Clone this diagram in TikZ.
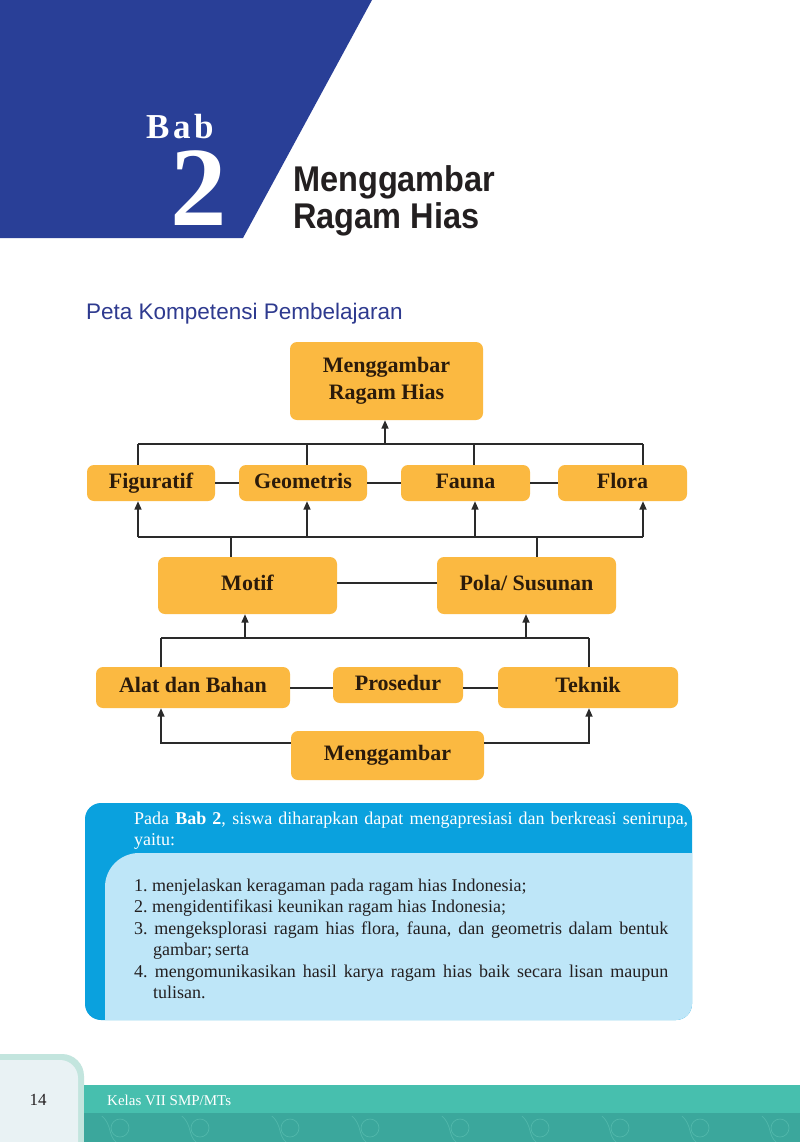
\documentclass[tikz,border=0pt]{standalone}
\usepackage{fontspec}
\usepackage{graphicx}
\setmainfont{Liberation Serif}
\newfontfamily\titlesans{Liberation Sans}
\usetikzlibrary{arrows.meta}
\definecolor{blueTop}{HTML}{293F97}
\definecolor{pkBlue}{HTML}{2E3A8F}
\definecolor{boxc}{HTML}{FBB941}
\definecolor{txtc}{HTML}{2B1B0B}
\definecolor{lnc}{HTML}{2A2A2A}
\definecolor{cyanD}{HTML}{0AA1DE}
\definecolor{cyanL}{HTML}{BEE6F8}
\definecolor{tealA}{HTML}{47BFAE}
\definecolor{tealB}{HTML}{3BA79C}
\definecolor{tealC}{HTML}{52B8AB}
\definecolor{panelF}{HTML}{E9F2F4}
\definecolor{panelB}{HTML}{C3E5DE}
\definecolor{darktxt}{HTML}{231F20}
\begin{document}
\begin{tikzpicture}[x=1pt,y=-1pt,
  box/.style={fill=boxc, rounded corners=7pt, inner sep=0pt, text=txtc, align=center,
    font=\fontsize{22}{27}\selectfont\bfseries},
  onel/.style={box, text height=14pt, text depth=4pt},
  ln/.style={draw=lnc, line width=1.6pt},
  arr/.style={ln, -{Triangle[length=8.5pt,width=7pt]}},
  infotxt/.style={anchor=base west, inner sep=0pt, align=justify, font=\fontsize{18}{21.5}\selectfont},
  orn/.style={draw=tealC, line width=0.7pt}
]
\useasboundingbox (0,0) rectangle (800,1142);
\fill[white] (0,0) rectangle (800,1142);

% header
\fill[blueTop] (0,0) -- (372,0) -- (243,238) -- (0,238) -- cycle;
\node[anchor=base west, inner sep=0pt, text=white, font=\fontsize{35}{40}\selectfont\bfseries] (bab) at (146,139) {B\kern3.5pt a\kern3.5pt b};
\node[anchor=base west, inner sep=0pt, text height=77pt, text depth=0pt, text=white, font=\fontsize{113}{120}\selectfont\bfseries] (num) at (170,225) {2};
\node[anchor=base west, inner sep=0pt, text=darktxt, font=\titlesans\fontsize{32.5}{36}\selectfont\bfseries] (t1) at (293,192) {\scalebox{1}[1.1]{Menggambar}};
\node[anchor=base west, inner sep=0pt, text=darktxt, font=\titlesans\fontsize{32.5}{36}\selectfont\bfseries] (t2) at (293,228) {\scalebox{1}[1.1]{Ragam Hias}};
\node[anchor=base west, inner sep=0pt, text=pkBlue, font=\titlesans\fontsize{22.5}{26}\selectfont] (peta) at (86,319) {Peta Kompetensi Pembelajaran};

% nodes
\node[box, minimum width=193pt, minimum height=78pt] (top) at (386.5,381) {Menggambar\\Ragam Hias};
\node[onel, minimum width=128pt, minimum height=36pt] (fig) at (151,483) {Figuratif};
\node[onel, minimum width=128pt, minimum height=36pt] (geo) at (303,483) {Geometris};
\node[onel, minimum width=129pt, minimum height=36pt] (fau) at (465.5,483) {Fauna};
\node[onel, minimum width=129pt, minimum height=36pt] (flo) at (622.5,483) {Flora};
\node[onel, minimum width=179pt, minimum height=57pt] (mot) at (247.5,585.5) {Motif};
\node[onel, minimum width=179pt, minimum height=57pt] (pol) at (526.5,585.5) {Pola/ Susunan};
\node[onel, minimum width=194pt, minimum height=41pt] (ala) at (193,687.5) {Alat dan Bahan};
\node[onel, minimum width=130pt, minimum height=36pt] (pro) at (398,685) {Prosedur};
\node[onel, minimum width=180pt, minimum height=41pt] (tek) at (588,687.5) {Teknik};
\node[onel, minimum width=193pt, minimum height=49pt] (mg) at (387.5,755.5) {Menggambar};

% bus 1
\coordinate (u0) at (385,444);
\coordinate (u1) at (138,444);
\coordinate (u2) at (307,444);
\coordinate (u3) at (474,444);
\coordinate (u4) at (643,444);
\draw[ln] (u1) -- (u4);
\draw[arr] (u0) -- (u0 |- top.south);
\draw[ln] (u1) -- (u1 |- fig.north);
\draw[ln] (u2) -- (u2 |- geo.north);
\draw[ln] (u3) -- (u3 |- fau.north);
\draw[ln] (u4) -- (u4 |- flo.north);
% row 2 links
\draw[ln] (fig.east) -- (geo.west);
\draw[ln] (geo.east) -- (fau.west);
\draw[ln] (fau.east) -- (flo.west);

% bus 2
\coordinate (v1) at (138,537);
\coordinate (v2) at (307,537);
\coordinate (v3) at (475,537);
\coordinate (v4) at (643,537);
\coordinate (vm) at (231,537);
\coordinate (vp) at (537,537);
\draw[ln] (v1) -- (v4);
\draw[arr] (v1) -- (v1 |- fig.south);
\draw[arr] (v2) -- (v2 |- geo.south);
\draw[arr] (v3) -- (v3 |- fau.south);
\draw[arr] (v4) -- (v4 |- flo.south);
\draw[ln] (vm) -- (vm |- mot.north);
\draw[ln] (vp) -- (vp |- pol.north);
\draw[ln] (mot.east |- 0,583) -- (pol.west |- 0,583);

% bus 3
\coordinate (w1) at (161,638);
\coordinate (w2) at (589,638);
\coordinate (wm) at (245,638);
\coordinate (wp) at (526,638);
\draw[ln] (w1) -- (w2);
\draw[arr] (wm) -- (wm |- mot.south);
\draw[arr] (wp) -- (wp |- pol.south);
\draw[ln] (w1) -- (w1 |- ala.north);
\draw[ln] (w2) -- (w2 |- tek.north);
\draw[ln] (ala.east |- 0,688) -- (pro.west |- 0,688);
\draw[ln] (pro.east |- 0,688) -- (tek.west |- 0,688);

% bottom
\coordinate (z1) at (161,743);
\coordinate (z2) at (589,743);
\draw[arr] (mg.west |- z1) -- (z1) -- (z1 |- ala.south);
\draw[arr] (mg.east |- z2) -- (z2) -- (z2 |- tek.south);

% info box
\fill[cyanD, rounded corners=16pt] (85,803) rectangle (692,1020);
\begin{scope}
\clip[rounded corners=16pt] (85,803) rectangle (692,1020);
\fill[cyanL, rounded corners=34pt] (105,1070) rectangle (760,853);
\end{scope}
\node[infotxt, text width=554pt, text=white] (hdr) at (134,824)
 {Pada \textbf{Bab 2}, siswa diharapkan dapat mengapresiasi dan berkreasi senirupa,\linebreak yaitu:};
\node[infotxt, text width=534pt, text=darktxt] (lst) at (134,891)
 {\parindent=0pt
  \hangindent=19pt\hangafter=1 1.\ menjelaskan keragaman pada ragam hias Indonesia;\par
  \hangindent=19pt\hangafter=1 2.\ mengidentifikasi keunikan ragam hias Indonesia;\par
  \hangindent=19pt\hangafter=1 3.\ mengeksplorasi ragam hias flora, fauna, dan geometris dalam bentuk\linebreak gambar;\,serta\par
  \hangindent=19pt\hangafter=1 4.\ mengomunikasikan hasil karya ragam hias baik secara lisan maupun\linebreak tulisan.\par};

% footer
\fill[panelB, rounded corners=22pt] (-40,1054) rectangle (84,1180);
\fill[panelF, rounded corners=18pt] (-40,1060) rectangle (78,1180);
\fill[tealA] (84,1085) rectangle (800,1113);
\fill[tealB] (84,1113) rectangle (800,1142);
\begin{scope}
\clip (84,1113) rectangle (800,1142);
\foreach \cx in {120,200,290,370,460,540,620,700,780} {
  \draw[orn] (\cx,1128) circle (9pt);
  \draw[orn] (\cx+22,1142) arc (0:-180:14pt and 12pt);
  \draw[orn] (\cx-18,1116) .. controls (\cx-8,1125) and (\cx-12,1135) .. (\cx-4,1142);
}
\end{scope}
\node[inner sep=0pt, text=darktxt, font=\fontsize{17}{20}\selectfont] (pg) at (38,1100) {14};
\node[anchor=west, inner sep=0pt, text=white, font=\fontsize{15}{18}\selectfont] (kls) at (107,1100) {Kelas VII SMP/MTs};
\end{tikzpicture}
\end{document}
